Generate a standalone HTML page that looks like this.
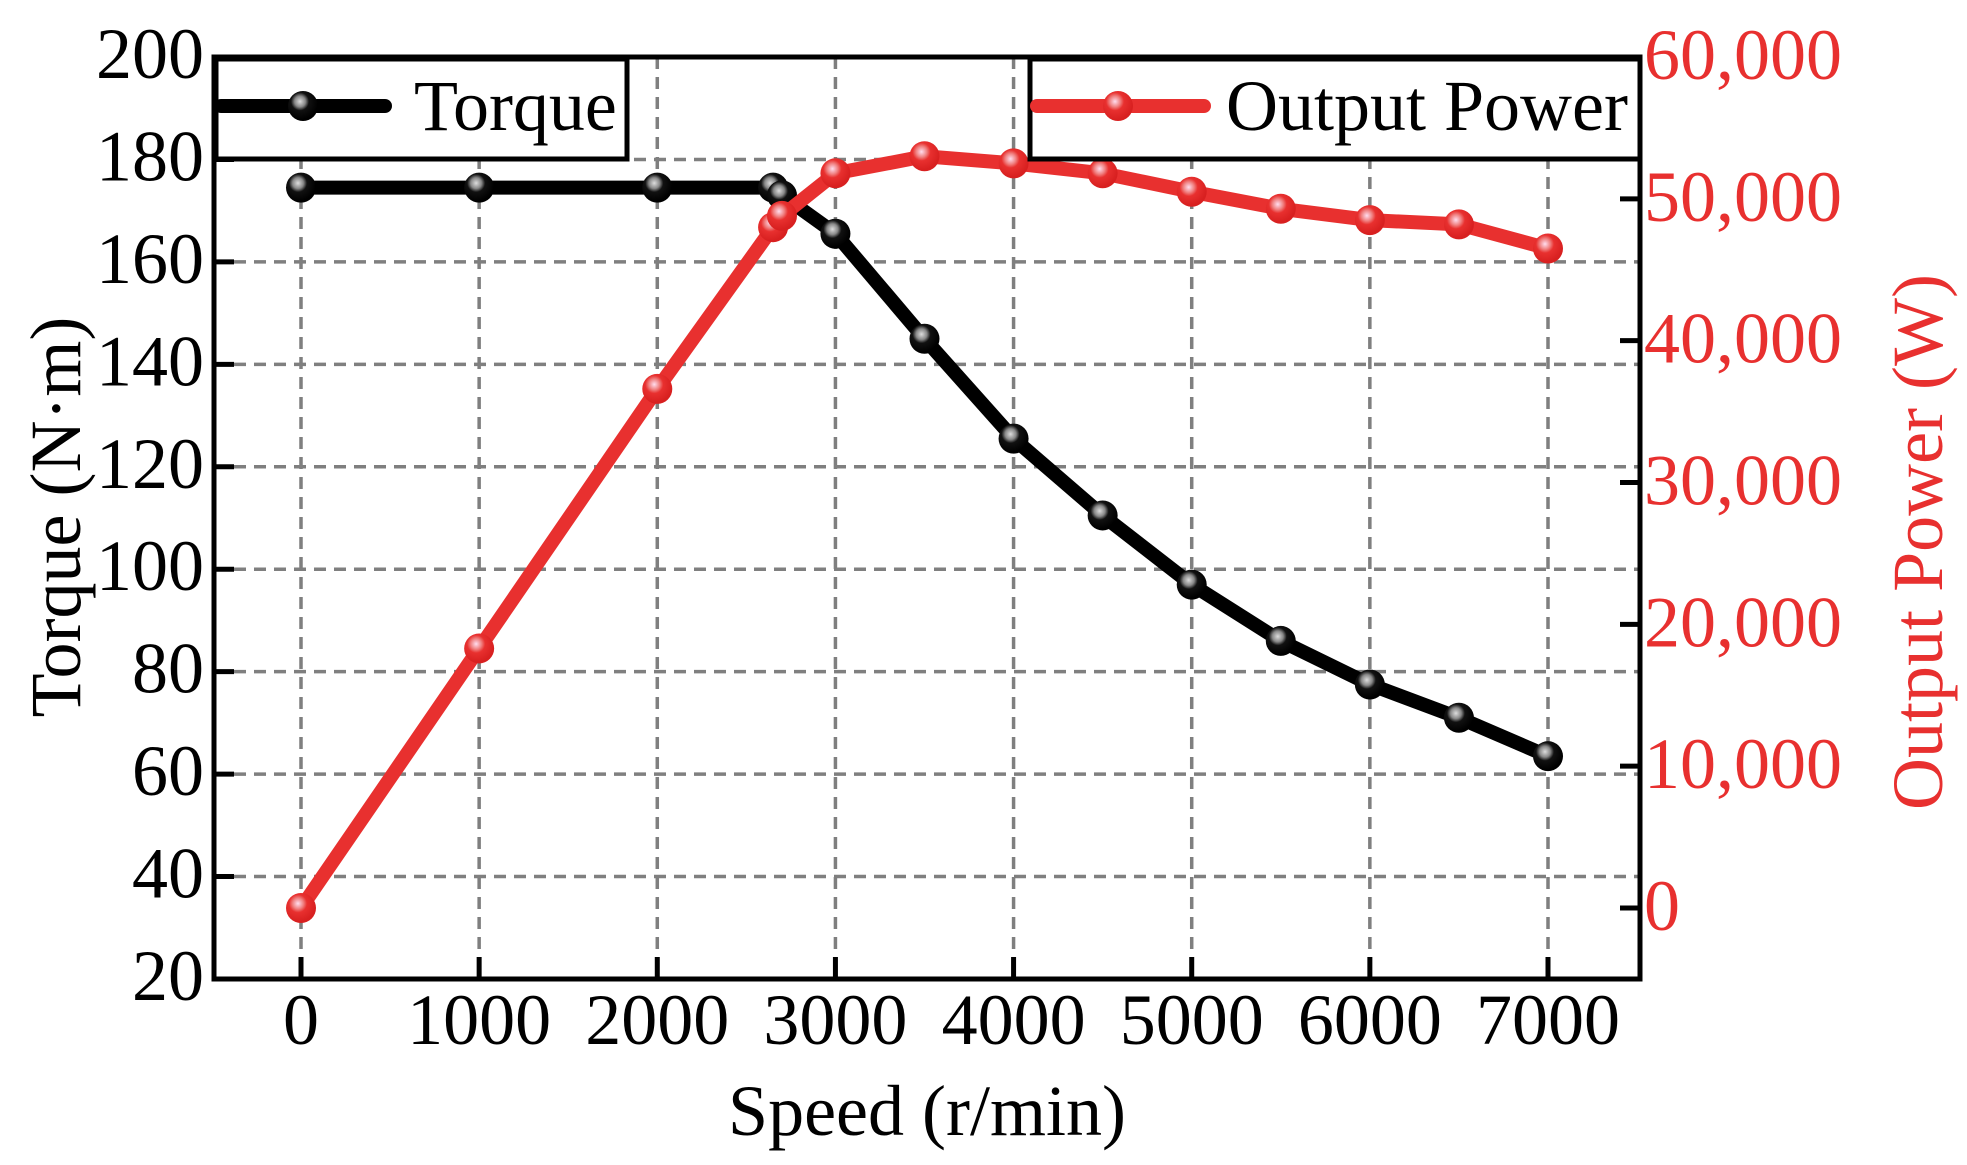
<!DOCTYPE html>
<html><head><meta charset="utf-8"><style>
html,body{margin:0;padding:0;background:#fff}
svg{display:block}
text{font-family:"Liberation Serif",serif;font-size:72px}
</style></head><body>
<svg id="s" width="1967" height="1165" xmlns="http://www.w3.org/2000/svg">
<defs>
<radialGradient id="gk" cx="0.4" cy="0.35" r="0.6"><stop offset="0" stop-color="#ddd"/><stop offset="0.3" stop-color="#888"/><stop offset="0.5" stop-color="#111"/><stop offset="1" stop-color="#000"/></radialGradient>
<radialGradient id="gr" cx="0.4" cy="0.35" r="0.6"><stop offset="0" stop-color="#fde"/><stop offset="0.3" stop-color="#f08080"/><stop offset="0.5" stop-color="#e8302f"/><stop offset="1" stop-color="#d82020"/></radialGradient>
</defs>
<g id="g"></g>
</svg>
<script>
var L=214,R=1640,T=57,B=979;
function X(v){return 301+v*1247/7000}
function YL(v){return T+(200-v)*(B-T)/180}
function YR(v){return 908-v*(851/60000)}
var h='';
for(var i=0;i<=7;i++){var x=X(i*1000);h+='<line x1="'+x+'" y1="'+T+'" x2="'+x+'" y2="'+B+'" stroke="#7f7f7f" stroke-width="3.5" stroke-dasharray="12,8"/>';
h+='<line x1="'+x+'" y1="'+B+'" x2="'+x+'" y2="'+(B-22)+'" stroke="#000" stroke-width="5"/>';
h+='<text x="'+x+'" y="1044" text-anchor="middle">'+(i*1000)+'</text>';}
for(var v=20;v<=200;v+=20){var y=YL(v);if(v>20&&v<200)h+='<line x1="'+L+'" y1="'+y+'" x2="'+R+'" y2="'+y+'" stroke="#7f7f7f" stroke-width="3.5" stroke-dasharray="12,8"/>';
h+='<line x1="'+L+'" y1="'+y+'" x2="'+(L+20)+'" y2="'+y+'" stroke="#000" stroke-width="5"/>';
h+='<text x="204" y="'+(y+21)+'" text-anchor="end">'+v+'</text>';}
var rl=['0','10,000','20,000','30,000','40,000','50,000','60,000'];
for(var k=0;k<=6;k++){var y=YR(k*10000);h+='<line x1="'+R+'" y1="'+y+'" x2="'+(R-20)+'" y2="'+y+'" stroke="#000" stroke-width="5"/>';
h+='<text x="1644" y="'+(y+22)+'" fill="#e8302f">'+rl[k]+'</text>';}
var sp=[0,1000,2000,2650,2700,3000,3500,4000,4500,5000,5500,6000,6500,7000];
var tq=[174.5,174.5,174.5,174.5,173,165.5,145,125.5,110.5,97,86,77.5,71,63.5];
var pw=[0,18300,36600,48000,48800,51800,53000,52500,51800,50500,49300,48500,48200,46500];
var p1='',p2='';
for(var i=0;i<sp.length;i++){p1+=X(sp[i])+','+YL(tq[i])+' ';p2+=X(sp[i])+','+YR(pw[i])+' ';}
h+='<polyline points="'+p1+'" fill="none" stroke="#000" stroke-width="14" stroke-linejoin="round"/>';
for(var i=0;i<sp.length;i++)h+='<circle cx="'+X(sp[i])+'" cy="'+YL(tq[i])+'" r="15" fill="url(#gk)"/>';
h+='<polyline points="'+p2+'" fill="none" stroke="#e8302f" stroke-width="14" stroke-linejoin="round"/>';
for(var i=0;i<sp.length;i++)h+='<circle cx="'+X(sp[i])+'" cy="'+YR(pw[i])+'" r="15" fill="url(#gr)"/>';
h+='<rect x="'+L+'" y="'+T+'" width="'+(R-L)+'" height="'+(B-T)+'" fill="none" stroke="#000" stroke-width="5"/>';
h+='<rect x="216" y="59" width="411" height="100" fill="#fff" stroke="#000" stroke-width="5"/>';
h+='<line x1="221" y1="106" x2="385" y2="106" stroke="#000" stroke-width="14" stroke-linecap="round"/><circle cx="303" cy="106" r="15" fill="url(#gk)"/>';
h+='<text x="414" y="130">Torque</text>';
h+='<rect x="1030" y="59" width="610" height="100" fill="#fff" stroke="#000" stroke-width="5"/>';
h+='<line x1="1037" y1="106" x2="1204" y2="106" stroke="#e8302f" stroke-width="14" stroke-linecap="round"/><circle cx="1118" cy="106" r="15" fill="url(#gr)"/>';
h+='<text x="1226" y="130">Output Power</text>';
h+='<text x="927" y="1135" text-anchor="middle">Speed (r/min)</text>';
h+='<text transform="translate(80,517) rotate(-90)" text-anchor="middle">Torque (N·m)</text>';
h+='<text transform="translate(1942,542) rotate(-90)" text-anchor="middle" fill="#e8302f">Output Power (W)</text>';
document.getElementById('g').innerHTML=h;
</script>
</body></html>
